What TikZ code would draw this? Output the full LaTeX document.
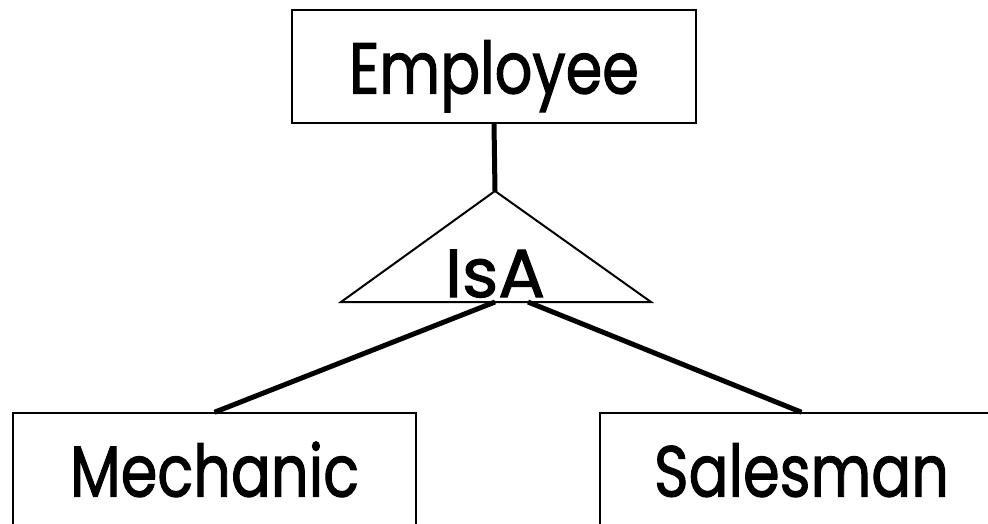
\documentclass[tikz,border=0pt]{standalone}
\usepackage{fontspec}
\newfontfamily\handfont[FakeBold=1.6]{Poppins}
\newcommand{\lbl}[1]{\scalebox{0.82}[1]{#1}}
\begin{document}
\begin{tikzpicture}[x=1pt,y=-1pt,
  entity/.style={draw,line width=1.5pt,inner sep=0pt,text height=54pt,text depth=0pt,
    font=\handfont\fontsize{72}{80}\selectfont},
  link/.style={line width=5pt},
  isaedge/.style={line width=2pt,line join=miter}]
\useasboundingbox (0,0) rectangle (988,524);
\begin{scope}
\clip (0,0) rectangle (988,524);
\node[entity,minimum width=404pt,minimum height=113pt] (emp) at (494,66.5) {\lbl{Employee}};
\node[entity,minimum width=403pt,minimum height=113pt] (mech) at (214.5,469.5) {\lbl{Mechanic}};
\node[entity,minimum width=403pt,minimum height=113pt] (sales) at (801.5,469.5) {\lbl{Salesman}};
% IsA triangle
\coordinate (apex) at (495,191);
\coordinate (bl) at (341,302);
\coordinate (br) at (651,302);
\coordinate (outL) at (495,302);
\coordinate (outR) at (528,302);
\draw[isaedge] (apex) -- (bl) -- (br) -- cycle;
\node[inner sep=0pt,text height=49pt,text depth=0pt,font=\handfont\fontsize{68}{72}\selectfont,anchor=base] (isa) at (495,297) {\scalebox{1.02}[1]{IsA}};
\draw[link] (emp.south) -- (apex);
\draw[link] (outL) -- (mech.north);
\draw[link] (outR) -- (sales.north);
\end{scope}
\end{tikzpicture}
\end{document}
